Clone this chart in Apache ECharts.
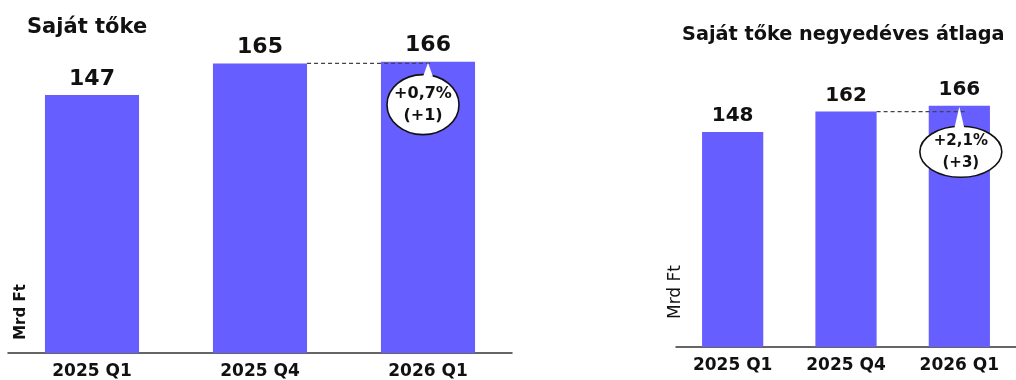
<!DOCTYPE html>
<html>
<head>
<meta charset="utf-8">
<script src="https://cdn.jsdelivr.net/npm/echarts@6/dist/echarts.min.js"></script>
<style>
html,body{margin:0;padding:0;background:#fff;}
#chart{width:1016px;height:380px;}
</style>
</head>
<body>
<div id="chart"></div>
<script>
// ---- data ----
const categories = ['2025 Q1', '2025 Q4', '2026 Q1'];
const equity = [147, 165, 166];            // Saját tőke
const equityAvg = [148, 162, 166];         // Saját tőke negyedéves átlaga
const equityChange = [1, 165, 2, 166];     // from index, from value, to index, to value
const equityAvgChange = [1, 162, 2, 166];
const equityChangeText = ['+0,7%', '(+1)'];
const equityAvgChangeText = ['+2,1%', '(+3)'];
const titles = ['Saját tőke', 'Saját tőke negyedéves átlaga'];
const unitLabel = 'Mrd Ft';

const FONT = 'DejaVu Sans';
const BAR = '#665eff';

function annotation(texts, st) {
  return function (params, api) {
    const p1 = api.coord([api.value(0), api.value(1)]);
    const p2 = api.coord([api.value(2), api.value(3)]);
    const band = api.size([1, 0])[0];
    const half = band * st.barRatio / 2;
    const cx = p2[0] + st.dx, cy = p2[1] + st.dy;
    return {
      type: 'group',
      children: [
        { type: 'line', shape: { x1: p1[0] + half, y1: p1[1], x2: p2[0] + st.lineExt, y2: p1[1] },
          style: { stroke: '#444', lineWidth: 1.2, lineDash: [4, 3] } },
        { type: 'ellipse', shape: { cx: cx, cy: cy, rx: st.rx, ry: st.ry },
          style: { fill: '#fff', stroke: '#111', lineWidth: 1.6 } },
        { type: 'polygon', shape: { points: [[p2[0], p2[1] + 1], [p2[0] - 5, cy - st.ry + 2], [p2[0] + 5, cy - st.ry + 2]] },
          style: { fill: '#fff' } },
        { type: 'text', x: cx, y: cy,
          style: { text: texts.join('\n'), align: 'center', verticalAlign: 'middle',
                   font: 'bold ' + st.fs + 'px ' + FONT, lineHeight: 22, fill: '#111' } }
      ]
    };
  };
}

const chart = echarts.init(document.getElementById('chart'), null, { renderer: 'canvas' });
chart.setOption({
  animation: false,
  backgroundColor: '#fff',
  title: [
    { text: titles[0], left: 22, top: 12, textStyle: { fontFamily: FONT, fontWeight: 'bold', fontSize: 21, color: '#111' } },
    { text: titles[1], left: 677, top: 20, textStyle: { fontFamily: FONT, fontWeight: 'bold', fontSize: 19.3, color: '#111' } }
  ],
  grid: [
    { left: 8, width: 504, top: 2, height: 352 },
    { left: 676, width: 350, top: 56.4, height: 290.6 }
  ],
  xAxis: [0, 1].map(i => ({
    type: 'category', gridIndex: i, data: categories,
    axisLine: { lineStyle: { color: '#333', width: 1.5 } },
    axisTick: { show: false },
    axisLabel: { margin: 10, fontFamily: FONT, fontWeight: 'bold', fontSize: 17, color: '#111' }
  })),
  yAxis: [0, 1].map(i => ({
    type: 'value', gridIndex: i, min: 0, max: 200,
    axisLine: { show: false }, axisTick: { show: false },
    axisLabel: { show: false }, splitLine: { show: false }
  })),
  graphic: [
    { type: 'text', x: 21, y: 312, rotation: Math.PI / 2,
      style: { text: unitLabel, align: 'center', verticalAlign: 'middle', font: 'bold 15px ' + FONT, fill: '#111' } },
    { type: 'text', x: 676, y: 292, rotation: Math.PI / 2,
      style: { text: unitLabel, align: 'center', verticalAlign: 'middle', font: '17px ' + FONT, fill: '#111' } }
  ],
  series: [
    { type: 'bar', xAxisIndex: 0, yAxisIndex: 0, data: equity, barWidth: '56%',
      itemStyle: { color: BAR },
      label: { show: true, position: 'top', distance: 5, fontFamily: FONT, fontWeight: 'bold', fontSize: 22, color: '#111' } },
    { type: 'bar', xAxisIndex: 1, yAxisIndex: 1, data: equityAvg, barWidth: '54%',
      itemStyle: { color: BAR },
      label: { show: true, position: 'top', distance: 6, fontFamily: FONT, fontWeight: 'bold', fontSize: 20, color: '#111' } },
    { type: 'custom', xAxisIndex: 0, yAxisIndex: 0, clip: false, z: 5,
      encode: { x: [0, 2], y: [1, 3] }, data: [equityChange],
      renderItem: annotation(equityChangeText, { barRatio: 0.56, dx: -5, dy: 43, rx: 36, ry: 30, lineExt: 5, fs: 16 }) },
    { type: 'custom', xAxisIndex: 1, yAxisIndex: 1, clip: false, z: 5,
      encode: { x: [0, 2], y: [1, 3] }, data: [equityAvgChange],
      renderItem: annotation(equityAvgChangeText, { barRatio: 0.54, dx: 1.5, dy: 46, rx: 41, ry: 25.5, lineExt: 7, fs: 15 }) }
  ]
});
</script>
</body>
</html>
